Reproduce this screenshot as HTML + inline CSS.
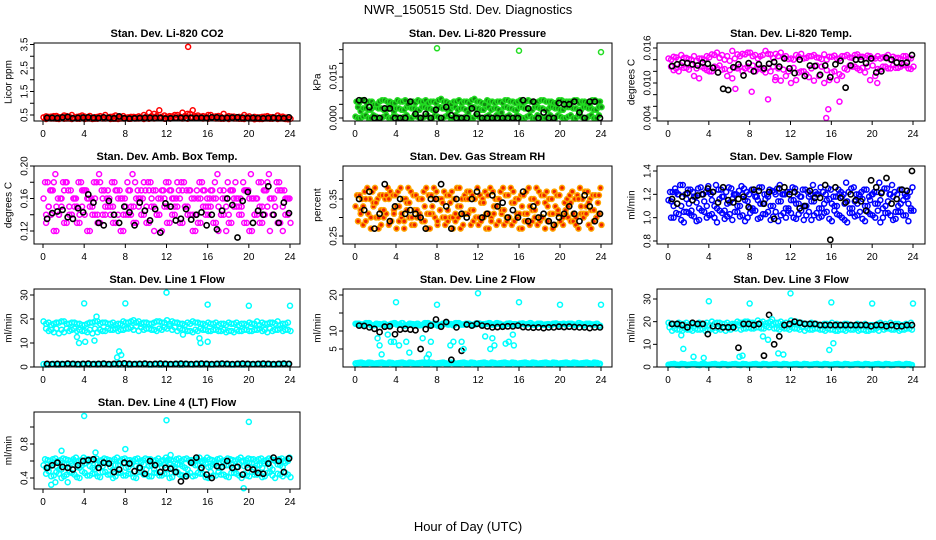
<!DOCTYPE html>
<html><head><meta charset="utf-8">
<style>
body{margin:0;background:#fff;}
svg{display:block;font-family:"Liberation Sans",Arial,sans-serif;}
</style></head>
<body>
<svg id="chart" width="936" height="540" viewBox="0 0 936 540" xmlns="http://www.w3.org/2000/svg">
<rect width="936" height="540" fill="#fff"/>
<text x="468" y="14" text-anchor="middle" font-size="13">NWR_150515  Std. Dev. Diagnostics</text>
<text x="468" y="531" text-anchor="middle" font-size="13">Hour of Day (UTC)</text>
</svg>
<script>
const xTicks = [0,4,8,12,16,20,24];
// CO2
const co2A = [.40,.42,.45,.41,.48,.43,.40,.44,.43,.46,.41,.45,.50,.42,.48,.40,.39,.42,.41,.40,.43,.41,.45,.40,.42,.44,.50,.60,.55,.70,.48,.45,.50,.42,.46,.55,.45,.43,.42,.50,.44,.42,.40,.43,.41,.40,.42,.39];
const co2B = [.33,.35,.34,.36,.35,.33,.34,.36,.35,.33,.34,.35,.36,.34,.33,.35,.34,.36,.35,.33,.34,.35,.36,.34,.35,.36,.38,.45,.40,.42,.38,.36,.37,.35,.34,.38,.36,.35,.34,.36,.35,.34,.33,.35,.34,.33,.35,.32];
const co2K = [.38,.38,.37,.40,.42,.36,.38,.39,.40,.38,.37,.40,.38,.36,.44,.36,.35,.36,.37,.38,.38,.37,.38,.35,.36,.37,.38,.37,.38,.37,.38,.37,.40,.40,.37,.38,.39,.40,.38,.37,.38,.37,.36,.37,.38,.37,.36,.40];
const co2OutX = [14.1]; const co2OutY = [3.4];
// Pressure (x0.001 kPa)
const prA = [6,6.5,5.5,6,5,6.5,6,5.5,6.5,6,5,6,6.5,6,5.5,6,6.5,6,5.5,6,6.5,6,5.5,7,6,5,6,5.5,6,6.5,6,5.5,6.5,6,6,5.5,6.5,6,6,5.5,6.5,6,6,6.5,6,5.5,6.5,6];
const prB = [4,3.5,3,4,3.5,3,4,2.5,3.5,3,4,3.5,3,4,3.5,3,4,3.5,3,4,3.5,3,4,3.5,3,4,3,3.5,2,4,3.5,3,4,3.5,3,4,3.5,3,4,3.5,3,4,3.5,3,4,3.5,3,4];
const prC = [0.5,0,1,0,0.5,0,1,0,0.5,0,1,0,0.5,0,1,0,0.5,0,1,0,0.5,0,1,0,0.5,0,1,0,0.5,0,1,0,0.5,0,1,0,0.5,0,1,0,0.5,0,1,0,0.5,0,1,0];
const prK = [6.5,6.5,4,0,0,3.5,3.5,0,0,0,6,1.5,0,1.5,0,3,0,4,1,0,0,0,3.5,1.5,0,0,0,0,0,0,0,0,6.5,3.5,6,0,2,0,0,5.5,5,5,6,2,0,6,6,0];
const prOutX = [8,16,24]; const prOutY = [25.5,24.6,24.1];
// Li-820 temp (x0.001 C)
const ltA = [14.2,14.5,14,14.3,14.1,14.6,14.2,14,14.4,14.8,14.3,14,13.8,14.2,14.6,14.9,15.2,14.8,14.6,15.5,14.9,15,15.2,14.6,14.2,14.8,15,14.3,14.6,14.4,14.1,14,14.5,14.2,14.6,14.8,14.3,14.9,14.5,14.7,14.2,14.6,14.4,14.8,14.5,14.3,14.6,14.2];
const ltB = [12.8,12.5,13,12.6,13.1,12.5,12.8,12.2,12,12.6,12.3,11.2,10.8,12.5,12,12.8,13,12.4,12.2,12.6,12.8,12.5,12.3,12,12.6,11.8,12,11,10.4,11.2,10,10.5,12,11.5,12.5,13,12.8,12.2,11.8,10.5,11.2,12.3,12.8,12.5,12.6,12.8,13,12.4];
const ltK = [12.9,13.2,13.5,13.4,13.2,13,13.5,13.3,12.6,11.8,9,8.8,12.7,13.2,11.3,13.4,12,13.2,12.5,13.3,13.6,12.8,14.2,12.5,11.7,14,11.2,13,12.9,11.4,13,11,13.2,13.8,9.2,13,14,14,13.4,14.2,11.8,12,14.3,14,13.5,13.4,13.5,14.8];
const ltOutX = [15.5,15.7,9.8,16.8,8.2,6.6,20.5,10.5]; const ltOutY = [4.0,5.5,7.2,6.8,8.5,9.0,10.0,10.5];
// Amb box temp
const amA = [.16,.15,.18,.14,.17,.15,.16,.14,.17,.15,.16,.18,.14,.15,.17,.16,.15,.14,.16,.17,.15,.16,.14,.17,.15,.16,.18,.17,.15,.14,.16,.17,.15,.16,.15,.17,.14,.16,.15,.17,.16,.14,.15,.17,.16,.15,.17,.16];
const amB = [.13,.14,.12,.15,.13,.14,.13,.15,.12,.14,.13,.14,.15,.13,.14,.12,.14,.13,.15,.14,.13,.12,.14,.15,.13,.14,.13,.15,.14,.12,.13,.14,.15,.13,.14,.12,.13,.15,.14,.13,.12,.14,.13,.15,.14,.13,.12,.14];
const amC = [.18,.17,.19,.16,.18,.17,.16,.18,.17,.16,.18,.17,.16,.18,.17,.16,.18,.19,.17,.16,.18,.17,.16,.17,.18,.16,.17,.18,.17,.16,.18,.17,.16,.18,.17,.16,.17,.18,.16,.17,.19,.16,.18,.17,.16,.18,.17,.16];
const amK = [.135,.142,.144,.146,.137,.135,.148,.143,.165,.155,.13,.127,.157,.14,.13,.15,.143,.127,.155,.145,.133,.147,.118,.154,.15,.133,.135,.147,.134,.14,.143,.127,.14,.122,.145,.160,.152,.112,.157,.168,.13,.145,.14,.175,.14,.13,.155,.142];
// Gas stream RH
const rhA = [.33,.31,.35,.30,.34,.32,.36,.29,.33,.31,.34,.30,.32,.35,.31,.33,.29,.34,.32,.30,.33,.31,.35,.32,.30,.34,.31,.33,.35,.32,.30,.34,.31,.29,.33,.32,.30,.34,.31,.33,.29,.32,.34,.30,.33,.31,.32,.30];
const rhB = [.29,.28,.31,.33,.27,.30,.28,.32,.29,.27,.30,.28,.31,.29,.27,.30,.32,.28,.30,.29,.27,.31,.28,.30,.29,.27,.30,.28,.31,.29,.28,.30,.27,.31,.29,.28,.30,.29,.27,.31,.28,.30,.29,.27,.31,.28,.29,.31];
const rhC = [.36,.35,.38,.37,.35,.36,.38,.36,.37,.35,.38,.36,.35,.37,.36,.38,.35,.37,.36,.35,.38,.36,.37,.35,.36,.37,.38,.35,.37,.36,.38,.35,.36,.37,.35,.38,.36,.37,.35,.36,.38,.35,.37,.36,.35,.37,.36,.34];
const rhK = [.35,.32,.37,.27,.31,.39,.29,.33,.35,.31,.32,.31,.30,.27,.35,.35,.39,.33,.27,.35,.31,.30,.35,.37,.30,.31,.36,.33,.34,.30,.32,.30,.37,.29,.33,.30,.31,.29,.28,.30,.31,.33,.31,.29,.36,.33,.29,.31];
// Sample flow
const sfA = [1.15,1.1,1.2,1.05,1.12,1.18,1.08,1.14,1.22,1.1,1.16,1.06,1.13,1.2,1.1,1.15,1.08,1.18,1.12,1.16,1.1,1.2,1.14,1.08,1.15,1.12,1.18,1.1,1.14,1.2,1.08,1.15,1.12,1.1,1.18,1.14,1.08,1.12,1.16,1.1,1.2,1.12,1.08,1.14,1.18,1.1,1.15,1.12];
const sfB = [1.0,1.04,0.98,1.05,1.02,0.97,1.06,1.0,1.03,0.96,1.04,1.01,0.98,1.05,1.02,1.0,1.06,0.99,1.03,1.05,1.01,0.97,1.04,1.06,1.0,1.03,0.98,1.05,1.02,1.0,1.04,0.99,1.06,1.02,0.98,1.04,1.01,1.05,0.97,1.03,1.0,0.96,1.04,1.02,0.99,1.05,1.02,1.06];
const sfC = [1.22,1.25,1.28,1.2,1.24,1.18,1.26,1.22,1.2,1.28,1.24,1.22,1.25,1.2,1.27,1.22,1.24,1.18,1.26,1.2,1.23,1.25,1.2,1.22,1.26,1.2,1.24,1.22,1.28,1.2,1.22,1.25,1.18,1.24,1.2,1.22,1.26,1.2,1.24,1.18,1.22,1.3,1.25,1.2,1.22,1.24,1.2,1.22];
const sfK = [1.16,1.12,1.18,1.21,1.15,1.19,1.2,1.25,1.22,1.13,1.26,1.15,1.13,1.16,1.18,1.09,1.24,1.23,1.12,1.22,0.99,1.25,1.26,1.2,1.22,1.08,1.1,1.23,1.17,1.17,1.28,0.81,1.26,1.17,1.13,1.2,1.15,1.14,1.06,1.32,1.26,1.21,1.34,1.12,1.16,1.24,1.23,1.4];
// Line 1 flow
const l1A = [19,18.5,18,18.5,19,18,18.5,18,17.5,18.5,19,18,18.5,18,17.5,18,18.5,19,18.5,18,18.5,18,19,18.5,19.5,19,18.5,18,18.5,19,18.5,18,18.5,18,17.5,18,18.5,18,17.5,18,18.5,18,17.5,18,18.5,18,17.5,18];
const l1B = [16,15.5,16,15.5,16,15.5,15,15,14.5,14,14.5,15,16,15.5,15,15.5,16,15.5,15,15.5,16,15.5,16,16.5,17,16.5,16,15.5,15,15.5,16,15.5,15,15.5,15,14.5,15,15.5,15,15.5,15,15.5,15,14.5,15,15.5,15,15.5];
const l1C = [1.2,1,1.3,1,1.2,1.1,1.3,1,1.2,1,1.3,1.1,1.2,1,1.3,1.1,1.2,1,1.3,1.1,1.2,1,1.3,1,1.2,1.1,1.3,1,1.2,1,1.3,1.1,1.2,1,1.3,1.1,1.2,1,1.3,1,1.2,1.1,1.3,1,1.2,1,1.3,1.1];
const l1K = [1.3,1.2,1.3,1.2,1.4,1.3,1.2,1.3,1.4,1.2,1.3,1.4,1.2,1.3,1.4,1.5,1.3,1.2,1.3,1.4,1.2,1.3,1.4,1.3,1.2,1.3,1.4,1.3,1.2,1.3,1.4,1.3,1.2,1.3,1.4,1.3,1.2,1.3,1.4,1.3,1.2,1.3,1.4,1.3,1.2,1.3,1.4,1.3];
const l1OutX = [4,8,12,16,20,24,3.3,3.5,4.1,5,5.2,7.2,7.4,7.6,15.2,15.3,16,13.6];
const l1OutY = [26.5,26.5,31,26,25.5,25.5,12.5,10,10.5,11,21,4,6.5,5,12,10,10.5,13.5];
// Line 2 flow
const l2A = [12,11.8,12.2,11.6,12,11.8,11.5,12,11.8,12.2,11.6,11.9,12,11.7,12.2,11.8,11.5,12,11.8,11.6,12.2,11.8,12,11.7,12.1,11.9,12.2,11.8,12,11.7,12.1,11.9,12,11.8,12.2,11.7,12,11.8,11.6,12.1,11.9,11.8,12,11.7,11.9,12,11.8,12];
const l2C = [1,1.2,0.9,1.1,1,1.2,0.9,1.1,1,1.2,0.9,1.1,1,1.2,0.9,1.1,1,1.2,0.9,1.1,1,1.2,0.9,1.1,1,1.2,0.9,1.1,1,1.2,0.9,1.1,1,1.2,0.9,1.1,1,1.2,0.9,1.1,1,1.2,0.9,1.1,1,1.2,0.9,1.1];
const l2K = [11.5,11.4,11,10.6,9.7,11.2,11.3,9.1,10.4,10.6,10.4,10.2,5,10.5,11.5,13.2,11.2,12.5,2,11,4.5,11.8,11.5,12,11.5,11.3,11,11.1,11.2,11.3,11.3,11.5,11.1,11,10.9,11,10.8,11,11,11.2,11.1,11.2,11.1,11,11,10.8,11,11];
const l2OutX = [4,8,12,16,20,24,2.2,2.4,2.6,3.2,3.5,3.8,4.3,5,5.3,6.6,7,7.2,7.4,9.3,9.6,10.4,10.6,12.7,13.2,13.4,13.6,14.7,15,15.4,15.5];
const l2OutY = [18,17.3,20.5,18,17.3,17.3,8,6,3.5,9,7,7,6,7,4,8,2.5,3.5,7,6,7,7,5,8.5,5,8,6,6.5,7,9,6];
// Line 3 flow
const l3A = [19.5,19,19.5,19,18.5,19,19.5,19,18.5,19,19.5,19,18.5,19,19.5,20,19.5,19,19.5,19,20,19.5,20,19.5,20.5,20,19.5,19,19.5,19,18.5,19,19.5,19,18.5,19,18.5,19,18.5,18,18.5,19,18.5,18,18.5,19,18.5,18];
const l3B = [17.5,17,16.5,17,16.5,17,16.5,16,16.5,16,16.5,16,16.5,17,16.5,17,17,17.5,17,18,18.5,17,17.5,17,17.5,17,17.5,17,16.5,17,16.5,17,16.5,16,16.5,17,16.5,16,16.5,16,16.5,16,16.5,17,16.5,16,16.5,17];
const l3C = [1,1.3,0.9,1.2,1,1.3,0.9,1.2,1,1.3,0.9,1.2,1,1.3,0.9,1.2,1,1.3,0.9,1.2,1,1.3,0.9,1.2,1,1.3,0.9,1.2,1,1.3,0.9,1.2,1,1.3,0.9,1.2,1,1.3,0.9,1.2,1,1.3,0.9,1.2,1,1.3,0.9,1.2];
const l3K = [19,19,18.5,17.5,19.5,19,19,14.5,18,18,17.5,17.5,17.5,8.5,19,19,18.5,19,5,23,10,13.5,18.5,19,20,19.5,19,19,19,18.5,18.5,18.5,18.5,18.5,18.5,18.5,18.5,18.5,18.5,18,18.5,18.5,18,18.5,18,18,18.5,18.5];
const l3OutX = [4,8,12,16,20,24,1.3,1.5,2.5,3.5,4.3,7,7.3,9.3,9.8,10.2,10.8,11.3,15.8,16.2];
const l3OutY = [29,28,32.5,28.5,28,28,14,8,4.5,4,20,4.5,5,13.5,12,21,6,5.5,7.5,10.5];
// Line 4 flow
const l4A = [.55,.52,.58,.5,.56,.53,.6,.52,.57,.54,.5,.56,.58,.53,.55,.6,.52,.56,.54,.58,.5,.55,.57,.53,.6,.52,.56,.54,.5,.57,.55,.58,.53,.56,.52,.59,.55,.5,.57,.54,.58,.52,.55,.57,.53,.6,.55,.58];
const l4B = [.45,.42,.47,.4,.44,.46,.41,.48,.43,.45,.42,.47,.44,.4,.46,.43,.45,.41,.47,.44,.42,.46,.43,.45,.4,.47,.44,.42,.46,.43,.45,.41,.47,.43,.44,.42,.46,.45,.4,.43,.47,.44,.41,.46,.43,.45,.42,.44];
const l4C = [.62,.6,.63,.61,.62,.6,.64,.61,.62,.6,.63,.61,.62,.6,.64,.62,.61,.6,.63,.61,.62,.6,.63,.61,.62,.6,.63,.62,.61,.6,.64,.61,.62,.6,.63,.61,.62,.6,.64,.61,.62,.6,.63,.61,.62,.6,.63,.62];
const l4K = [.52,.55,.58,.53,.52,.5,.55,.6,.61,.62,.52,.58,.57,.47,.5,.58,.57,.48,.52,.45,.6,.55,.47,.52,.51,.47,.36,.42,.58,.64,.52,.44,.4,.54,.53,.6,.52,.53,.44,.52,.5,.46,.45,.57,.64,.6,.47,.63];
const l4OutX = [4,12,20,1.8,19.5,0.8,1.2,2.4,5.1,8,12.4];
const l4OutY = [1.13,1.08,1.06,0.72,0.28,0.32,0.35,0.35,0.7,0.74,0.67];

const svg = document.getElementById('chart');
const NS = 'http://www.w3.org/2000/svg';
function mk(tag, attrs, parent){const e=document.createElementNS(NS,tag);for(const k in attrs)e.setAttribute(k,attrs[k]);(parent||svg).appendChild(e);return e;}
const cols = [{bx0:34,bx1:300,x0:43,x24:290,ylx:9,tlx:25},{bx0:343,bx1:612,x0:355,x24:601,ylx:318,tlx:334},{bx0:657,bx1:925,x0:668,x24:913,ylx:632,tlx:648}];
const rows = [{by0:43,by1:121},{by0:166,by1:244},{by0:289,by1:367},{by0:412,by1:489}];

function panel(name, col, row, title, ylab, v1, p1, v2, p2, ticks, labels, series, outX, outY, outColor){
  const c = cols[col], r = rows[row];
  const g = mk('g', {});
  
  
  const xs = h => c.x0 + (c.x24 - c.x0) * h / 24;
  const ys = v => p1 + (p2 - p1) * (v - v1) / (v2 - v1);
  const t = mk('text', {x:(c.bx0+c.bx1)/2, y:r.by0-6, 'text-anchor':'middle','font-size':'11','font-weight':'bold'}, g);
  t.textContent = title;
  
  
  const yl = mk('text', {x:c.ylx, y:(r.by0+r.by1)/2, 'text-anchor':'middle','font-size':'10',transform:`rotate(-90 ${c.ylx} ${(r.by0+r.by1)/2})`,'dominant-baseline':'middle'}, g);
  yl.textContent = ylab;
  
  
  const clip = mk('g', {}, g);
  series.forEach(s => {
    const n = s.vals.length;
    s.vals.forEach((v, i) => {
      const h = i * 0.5 + s.off;
      const cc = mk('circle', {cx:xs(h), cy:ys(v), r:s.k?2.6:2.5, fill:s.fill||'none', stroke:s.color, 'stroke-width':s.k?1.6:1.5}, clip);
      
      
      if (!s.k) {
        const v2b = s.vals[(i + 7) % n];
        const c2 = mk('circle', {cx:xs(h + 0.25), cy:ys(v2b), r:2.5, fill:s.fill||'none', stroke:s.color, 'stroke-width':1.5}, clip);
        
        
      }
    });
  });
  outX.forEach((h, i) => {
    const cc = mk('circle', {cx:xs(h), cy:ys(outY[i]), r:2.5, fill:'none', stroke:outColor, 'stroke-width':1.5}, clip);
    
    
  });
  // re-draw black on top
  const b = mk('rect', {x:c.bx0, y:r.by0, width:c.bx1-c.bx0, height:r.by1-r.by0, fill:'none', stroke:'#000','stroke-width':1}, g);
  
  
  xTicks.forEach(h => {
    mk('line', {x1:xs(h), x2:xs(h), y1:r.by1, y2:r.by1+4, stroke:'#000'}, g);
    const tx = mk('text', {x:xs(h), y:r.by1+16, 'text-anchor':'middle','font-size':'10'}, g);
    tx.textContent = h;
    
    
  });
  ticks.forEach((v, i) => {
    const y = ys(v);
    mk('line', {x1:c.bx0-4, x2:c.bx0, y1:y, y2:y, stroke:'#000'}, g);
    if (labels[i] !== '') {
      const ty = mk('text', {x:c.tlx, y:y, 'text-anchor':'middle','font-size':'10','dominant-baseline':'middle',transform:`rotate(-90 ${c.tlx} ${y})`}, g);
      ty.textContent = labels[i];
      
      
    }
  });
}
const K = '#000';
panel('co2',0,0,'Stan. Dev. Li-820 CO2','Licor ppm',0.5,115,3.5,44.5,[0.5,1,1.5,2,2.5,3,3.5],['0.5','','1.5','','2.5','','3.5'],
  [{vals:co2B,off:0.3,color:'#ff0000'},{vals:co2A,off:0.05,color:'#ff0000'},{vals:co2K,off:0.4,color:K,k:1}],co2OutX,co2OutY,'#ff0000');
panel('pressure',1,0,'Stan. Dev. Li-820 Pressure','kPa',0,118,15,77,[0,5,10,15,20,25],['0.000','','','0.015','',''],
  [{vals:prC,off:0.05,color:'#22dd22',fill:'#118811'},{vals:prB,off:0.3,color:'#22dd22',fill:'#118811'},{vals:prA,off:0.15,color:'#22dd22',fill:'#118811'},{vals:prK,off:0.4,color:K,k:1}],prOutX,prOutY,'#22dd22');
panel('li820-temp',2,0,'Stan. Dev. Li-820 Temp.','degrees C',16,48,4,118,[4,6,8,10,12,14,16],['0.004','','','0.010','','','0.016'],
  [{vals:ltB,off:0.3,color:'#ff00ff'},{vals:ltA,off:0.05,color:'#ff00ff'},{vals:ltK,off:0.4,color:K,k:1}],ltOutX,ltOutY,'#ff00ff');
panel('amb-box-temp',0,1,'Stan. Dev. Amb. Box Temp.','degrees C',0.20,166,0.12,231,[0.12,0.14,0.16,0.18,0.20],['0.12','','0.16','','0.20'],
  [{vals:amB,off:0.3,color:'#ff00ff'},{vals:amC,off:0.2,color:'#ff00ff'},{vals:amA,off:0.05,color:'#ff00ff'},{vals:amK,off:0.4,color:K,k:1}],[],[],'#ff00ff');
panel('gas-stream-rh',1,1,'Stan. Dev. Gas Stream RH','percent',0.25,236,0.35,199,[0.25,0.30,0.35,0.40],['0.25','','0.35',''],
  [{vals:rhB,off:0.3,color:'#ffa500',fill:'#ee2200'},{vals:rhC,off:0.2,color:'#ffa500',fill:'#ee2200'},{vals:rhA,off:0.05,color:'#ffa500',fill:'#ee2200'},{vals:rhK,off:0.4,color:K,k:1}],[],[],'#ffa500');
panel('sample-flow',2,1,'Stan. Dev. Sample Flow','ml/min',0.8,241,1.4,171,[0.8,1.0,1.2,1.4],['0.8','1.0','1.2','1.4'],
  [{vals:sfB,off:0.3,color:'#0000ff'},{vals:sfC,off:0.2,color:'#0000ff'},{vals:sfA,off:0.05,color:'#0000ff'},{vals:sfK,off:0.4,color:K,k:1}],[],[],'#0000ff');
panel('line1-flow',0,2,'Stan. Dev. Line 1 Flow','ml/min',0,367,30,295,[0,10,20,30],['0','10','20','30'],
  [{vals:l1C,off:0.05,color:'#00ffff'},{vals:l1B,off:0.3,color:'#00ffff'},{vals:l1A,off:0.05,color:'#00ffff'},{vals:l1K,off:0.4,color:K,k:1}],l1OutX,l1OutY,'#00ffff');
panel('line2-flow',1,2,'Stan. Dev. Line 2 Flow','ml/min',0,367,20,295,[5,10,15,20],['5','10','','20'],
  [{vals:l2C,off:0.05,color:'#00ffff'},{vals:l2C,off:0.15,color:'#00ffff'},{vals:l2A,off:0.05,color:'#00ffff'},{vals:l2A,off:0.15,color:'#00ffff'},{vals:l2K,off:0.4,color:K,k:1}],l2OutX,l2OutY,'#00ffff');
panel('line3-flow',2,2,'Stan. Dev. Line 3 Flow','ml/min',0,367,30,299,[0,10,20,30],['0','10','20','30'],
  [{vals:l3C,off:0.05,color:'#00ffff'},{vals:l3C,off:0.15,color:'#00ffff'},{vals:l3B,off:0.15,color:'#00ffff'},{vals:l3A,off:0.05,color:'#00ffff'},{vals:l3K,off:0.4,color:K,k:1}],l3OutX,l3OutY,'#00ffff');
panel('line4-flow',0,3,'Stan. Dev. Line 4 (LT) Flow','ml/min',0.4,478,0.8,444,[0.4,0.6,0.8,1.0],['0.4','','0.8',''],
  [{vals:l4B,off:0.3,color:'#00ffff'},{vals:l4C,off:0.2,color:'#00ffff'},{vals:l4A,off:0.05,color:'#00ffff'},{vals:l4K,off:0.4,color:K,k:1}],l4OutX,l4OutY,'#00ffff');
</script>
</body></html>
